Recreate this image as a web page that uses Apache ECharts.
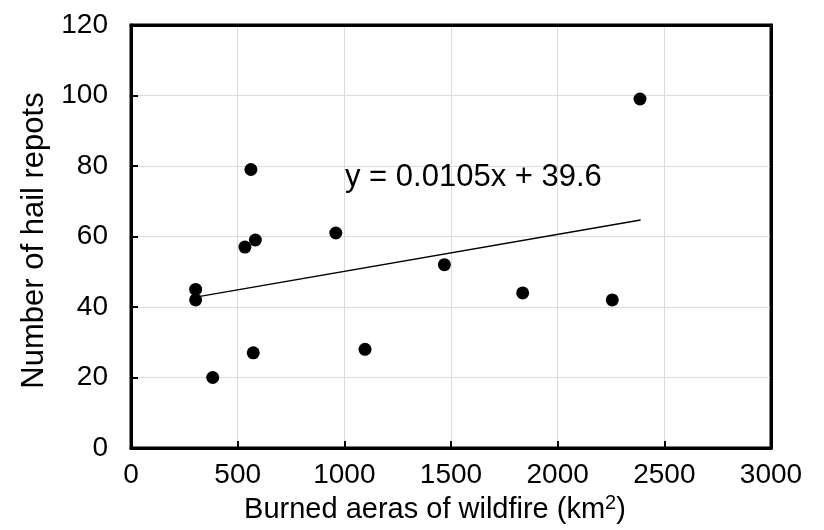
<!DOCTYPE html>
<html>
<head>
<meta charset="utf-8">
<script src="https://cdn.jsdelivr.net/npm/echarts@6/dist/echarts.min.js"></script>
<style>html,body{margin:0;padding:0;background:#fff}#c{width:824px;height:530px}</style>
</head>
<body>
<div id="c"></div>
<script>
// Data
var burnedArea = [303, 303, 534, 583, 960, 383, 573, 1097, 1469, 1836, 2256, 2386, 562];
var hailReports = [45, 42, 57, 59, 61, 20, 27, 28, 52, 44, 42, 99, 79];
// Trend line endpoints (y = 0.0105x + 39.6 over the data range)
var trendX = [303, 2389];
var trendY = [42.8, 64.7];
var equationText = 'y = 0.0105x + 39.6';
var xTicks = [0, 500, 1000, 1500, 2000, 2500, 3000];
var yTicks = [0, 20, 40, 60, 80, 100, 120];

var FONT = '"Liberation Sans", Arial, Helvetica, sans-serif';
var points = burnedArea.map(function (x, i) { return [x, hailReports[i]]; });
var trend = trendX.map(function (x, i) { return [x, trendY[i]]; });
var plain = function (v) { return String(v); };
var XMIN = xTicks[0], XMAX = xTicks[xTicks.length - 1];
var YMIN = yTicks[0], YMAX = yTicks[yTicks.length - 1];
var BLACK = {color: '#000', width: 3};

function borderX(pos) {
  return {type: 'value', position: pos, min: XMIN, max: XMAX, interval: 500,
    axisLine: {show: true, onZero: false, lineStyle: BLACK},
    axisTick: {show: false}, axisLabel: {show: false}, splitLine: {show: false}, z: 5};
}
function borderY(pos) {
  return {type: 'value', position: pos, min: YMIN, max: YMAX, interval: 20,
    axisLine: {show: true, onZero: false, lineStyle: BLACK},
    axisTick: {show: false}, axisLabel: {show: false}, splitLine: {show: false}, z: 5};
}

var chart = echarts.init(document.getElementById('c'), null, {renderer: 'canvas'});
chart.setOption({
  animation: false,
  backgroundColor: '#fff',
  grid: {left: 131, right: 53, top: 25, bottom: 82, show: true, borderColor: '#000', borderWidth: 3, backgroundColor: 'transparent'},
  xAxis: [{
    type: 'value', position: 'bottom', min: XMIN, max: XMAX, interval: 500,
    name: 'Burned aeras of wildfire (km{sup|2})',
    nameLocation: 'middle', nameGap: 43,
    nameTextStyle: {fontFamily: FONT, fontSize: 29, color: '#000', padding: [0, 32, 0, 0],
      rich: {sup: {fontFamily: FONT, fontSize: 20, color: '#000', verticalAlign: 'bottom', padding: [0, 0, 12, 0]}}},
    axisLine: {show: true, onZero: false, lineStyle: BLACK},
    axisTick: {show: true, inside: true, length: 7, lineStyle: {color: '#000', width: 2}},
    axisLabel: {fontFamily: FONT, fontSize: 28, color: '#000', margin: 13, formatter: plain},
    splitLine: {show: false},
    z: 5
  }, borderX('top'), {
    type: 'value', position: 'bottom', min: XMIN, max: XMAX, interval: 500,
    axisLine: {show: false}, axisTick: {show: false}, axisLabel: {show: false},
    splitLine: {show: true, lineStyle: {color: '#dcdcdc', width: 1}}, z: 1
  }],
  yAxis: [{
    type: 'value', position: 'left', min: YMIN, max: YMAX, interval: 20,
    name: 'Number of hail repots',
    nameLocation: 'middle', nameGap: 66,
    nameTextStyle: {fontFamily: FONT, fontSize: 31, color: '#000', padding: [0, 8, 0, 0]},
    axisLine: {show: true, onZero: false, lineStyle: BLACK},
    axisTick: {show: true, inside: true, length: 7, lineStyle: {color: '#000', width: 2}},
    axisLabel: {fontFamily: FONT, fontSize: 28, color: '#000', margin: 23, formatter: plain},
    splitLine: {show: false},
    z: 5
  }, borderY('right'), {
    type: 'value', position: 'left', min: YMIN, max: YMAX, interval: 20,
    axisLine: {show: false}, axisTick: {show: false}, axisLabel: {show: false},
    splitLine: {show: true, lineStyle: {color: '#dcdcdc', width: 1}}, z: 1
  }],
  series: [
    {
      type: 'line', data: trend, showSymbol: false, symbol: 'none', xAxisIndex: 0, yAxisIndex: 0,
      lineStyle: {color: '#000', width: 1.5}, z: 2, silent: true
    },
    {
      type: 'scatter', data: points, symbol: 'circle', symbolSize: 13, xAxisIndex: 0, yAxisIndex: 0,
      itemStyle: {color: '#000', opacity: 1}, z: 3
    }
  ],
  graphic: [{
    type: 'text', left: 345, top: 162, z: 100,
    style: {text: equationText, fontFamily: FONT, fontSize: 31, fill: '#000'}
  }]
});
</script>
</body>
</html>
